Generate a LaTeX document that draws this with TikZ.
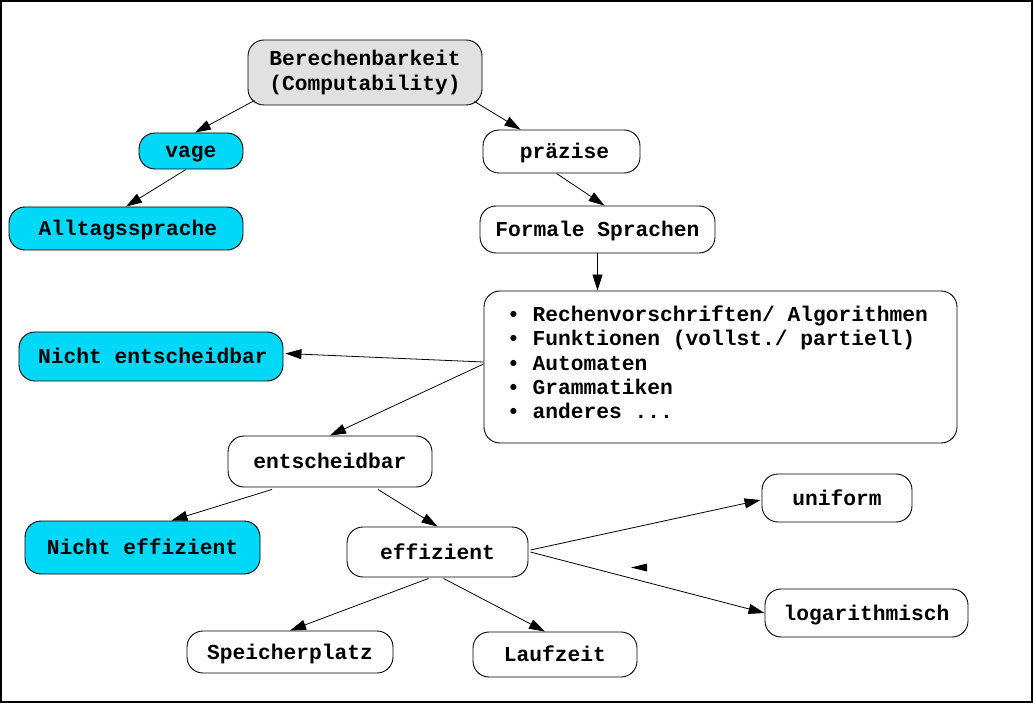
\documentclass[tikz,border=0pt]{standalone}
\usepackage{fontspec}
\setmainfont{Liberation Mono}
\usetikzlibrary{arrows.meta,calc}
\definecolor{boxcyan}{RGB}{0,216,248}
\definecolor{boxgray}{RGB}{225,225,225}
\begin{document}
\begin{tikzpicture}[x=1pt,y=-1pt,
  every node/.style={font=\fontsize{21.25}{24.3}\selectfont\bfseries},
  box/.style={draw=black, line width=0.9pt, rounded corners=16pt, inner sep=0pt, align=center},
  one/.style={text height=15pt, text depth=1pt},
  wbox/.style={box, fill=white},
  cbox/.style={box, fill=boxcyan},
  gbox/.style={box, fill=boxgray},
  conn/.style={draw=black, line width=0.8pt, -{Triangle[length=16pt,width=10pt]}}]

\useasboundingbox (0,0) rectangle (1034,703);
\draw[line width=2pt] (1,1) rectangle (1032,701.5);

\node[gbox, minimum width=234pt, minimum height=65pt] (ber) at (365,72.5) {Berechenbarkeit\\(Computability)};
\node[cbox, one, minimum width=104pt, minimum height=36pt] (vage) at (191,151) {vage};
\node[wbox, one, minimum width=157pt, minimum height=43pt] (prae) at (561.5,151.5) {\hspace*{6pt}präzise};
\node[cbox, one, minimum width=234pt, minimum height=43pt] (all) at (126,228.5) {\hspace*{4pt}Alltagssprache};
\node[wbox, one, minimum width=235pt, minimum height=47pt] (form) at (597.5,229.5) {Formale Sprachen};
\node[wbox, minimum width=473pt, minimum height=152pt] (list) at (720.5,367) {};
\node[align=left, inner sep=0pt, xshift=-3pt, yshift=4.5pt] (listtxt) at (list.center) {• Rechenvorschriften/ Algorithmen\\• Funktionen (vollst./ partiell)\\• Automaten\\• Grammatiken\\• anderes ...};
\node[cbox, one, minimum width=264pt, minimum height=49pt] (ne) at (151,356.5) {\hspace*{4pt}Nicht entscheidbar};
\node[wbox, one, minimum width=204pt, minimum height=51pt] (ent) at (330,461.5) {entscheidbar};
\node[cbox, one, minimum width=235pt, minimum height=53pt] (nef) at (142.5,547.5) {Nicht effizient};
\node[wbox, one, minimum width=181pt, minimum height=50pt] (eff) at (437.5,552) {effizient};
\node[wbox, one, minimum width=150pt, minimum height=48pt] (uni) at (837,498) {uniform};
\node[wbox, one, minimum width=203pt, minimum height=48pt] (log) at (866.5,613) {logarithmisch};
\node[wbox, one, minimum width=206pt, minimum height=42pt] (sp) at (290,652) {Speicherplatz};
\node[wbox, one, minimum width=164pt, minimum height=45pt] (lauf) at (555,654.5) {Laufzeit};

\draw[conn] ($(ber.south west)+(7,-5)$) -- ($(vage.north)+(4,0)$);
\draw[conn] ($(ber.south east)+(-8,-4)$) -- ($(prae.north west)+(38,0)$);
\draw[conn] ($(vage.south)+(-5,0)$) -- (all.north);
\draw[conn] ($(prae.south)+(-5,0)$) -- ($(form.north)+(7,0)$);
\draw[conn] (form.south) -- (form.south |- list.north);
\draw[conn] ($(list.west)+(0,-5)$) -- ($(ne.east)+(2,-3)$);
\draw[conn] ($(list.west)+(0,-3)$) -- (ent.north);
\draw[conn] ($(ent.south)+(-58,2)$) -- ($(nef.north)+(29,0)$);
\draw[conn] ($(ent.south)+(48,2)$) -- (eff.north);
\draw[conn] ($(eff.east)+(2,-2)$) -- ($(uni.west)+(-1,2)$);
\draw[conn] ($(eff.east)+(2,0)$) -- (log.west);
\draw[conn] ($(eff.south)+(-9,1)$) -- (sp.north);
\draw[conn] ($(eff.south)+(6,1)$) -- ($(lauf.north)+(-10,0)$);

\fill[black] (647,563.5) -- (647,571.5) -- (631,567.5) -- cycle;
\end{tikzpicture}
\end{document}
